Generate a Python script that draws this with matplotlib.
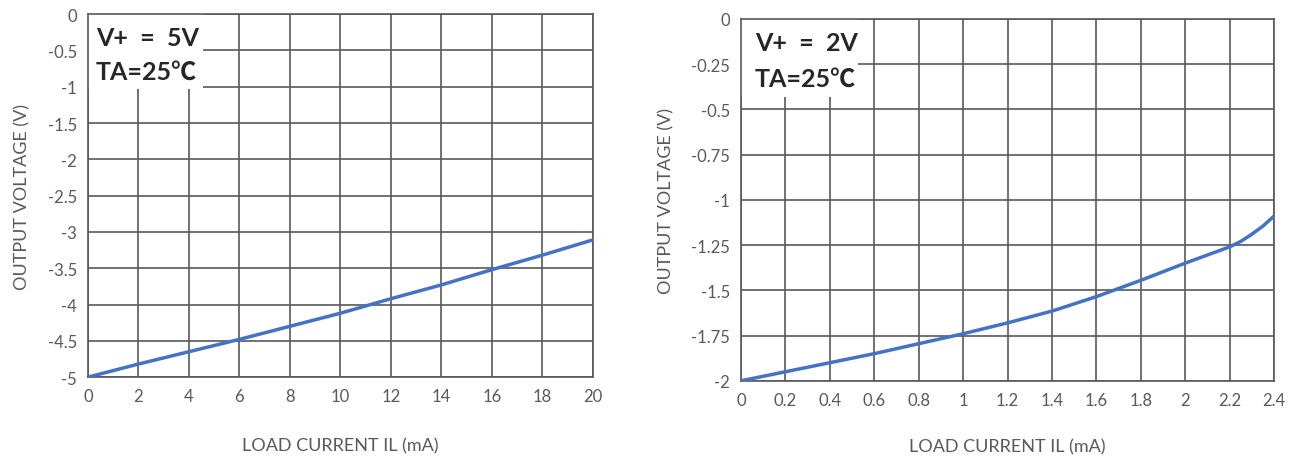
import matplotlib
matplotlib.use("Agg")
import matplotlib.pyplot as plt
from matplotlib.patches import Rectangle

plt.rcParams['font.family'] = ['Lato', 'DejaVu Sans']

# left chart: V+ = 5V
il_5v = [0, 2, 4, 6, 8, 10, 12, 14, 16, 18, 20]
vout_5v = [-5.0, -4.82, -4.65, -4.48, -4.30, -4.12, -3.92, -3.73, -3.52, -3.32, -3.11]
xticks_5v = [0, 2, 4, 6, 8, 10, 12, 14, 16, 18, 20]
yticks_5v = [0, -0.5, -1, -1.5, -2, -2.5, -3, -3.5, -4, -4.5, -5]

# right chart: V+ = 2V
il_2v = [0, 0.2, 0.4, 0.6, 0.8, 1.0, 1.2, 1.4, 1.6, 1.8, 2.0, 2.1, 2.2, 2.25, 2.3, 2.35, 2.4]
vout_2v = [-2.0, -1.95, -1.90, -1.85, -1.795, -1.74, -1.68, -1.615, -1.535, -1.445,
           -1.35, -1.305, -1.26, -1.23, -1.19, -1.145, -1.09]
xticks_2v = [0, 0.2, 0.4, 0.6, 0.8, 1, 1.2, 1.4, 1.6, 1.8, 2, 2.2, 2.4]
yticks_2v = [0, -0.25, -0.5, -0.75, -1, -1.25, -1.5, -1.75, -2]

line_col = '#4472C4'
grid_col = '#595959'
text_col = '#595959'


def draw(ax, x, y, xt, yt, label1, box_w, box_h, tx, xpad):
    ax.plot(x, y, color=line_col, lw=2.5, zorder=4, solid_capstyle='butt')
    ax.set_xlim(xt[0], xt[-1])
    ax.set_ylim(min(yt), max(yt))
    ax.set_xticks(xt)
    ax.set_xticklabels(['%g' % v for v in xt])
    ax.set_yticks(yt)
    ax.set_yticklabels(['%g' % v for v in yt])
    ax.grid(True, color=grid_col, lw=1.2, zorder=1)
    ax.set_axisbelow(True)
    ax.tick_params(length=0, labelsize=12, labelcolor=text_col, pad=8)
    for s in ax.spines.values():
        s.set_color(grid_col)
        s.set_linewidth(1.2)
    ax.set_xlabel('LOAD CURRENT IL (mA)', fontsize=13, color=text_col, labelpad=xpad)
    ax.set_ylabel('OUTPUT VOLTAGE (V)', fontsize=13, color=text_col, labelpad=12)
    ax.add_patch(Rectangle((0, 1 - box_h), box_w, box_h, transform=ax.transAxes,
                           facecolor='white', edgecolor='none', zorder=2))
    ax.text(tx, 1 - box_h * 0.31, label1, transform=ax.transAxes,
            fontsize=18, fontweight='bold', color='#262626', va='center', ha='left', zorder=5)
    ax.text(tx, 1 - box_h * 0.76, 'TA=25℃', transform=ax.transAxes,
            fontsize=18, fontweight='bold', color='#262626', va='center', ha='left', zorder=5,
            family=['Lato', 'Noto Sans CJK SC', 'DejaVu Sans'])


fig = plt.figure(figsize=(13.01, 4.6), dpi=100)
ax1 = fig.add_axes([0.0676, 0.178, 0.388, 0.789])
ax2 = fig.add_axes([0.5696, 0.170, 0.4097, 0.787])

draw(ax1, il_5v, vout_5v, xticks_5v, yticks_5v, 'V+  =  5V', 0.228, 0.207, 0.016, 24)
draw(ax2, il_2v, vout_2v, xticks_2v, yticks_2v, 'V+  =  2V', 0.22, 0.215, 0.026, 22)

fig.savefig('out.png', dpi=100)
